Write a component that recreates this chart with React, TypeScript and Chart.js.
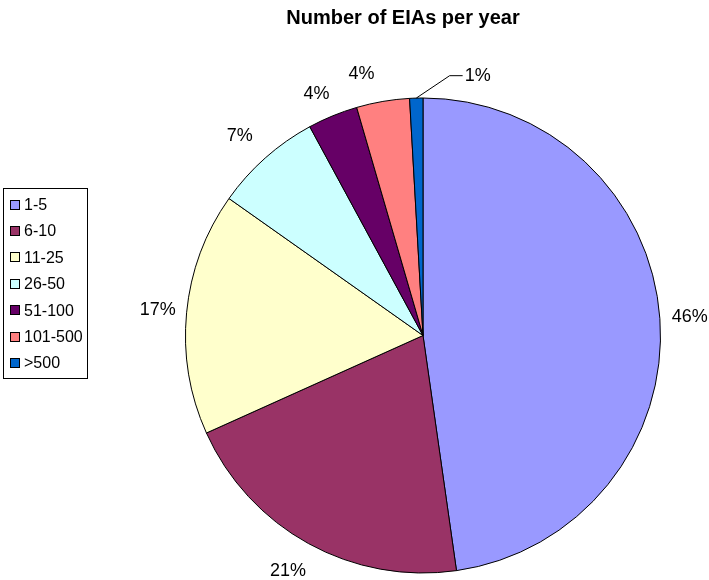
import React, { useEffect, useRef } from "react";
import { Chart, registerables } from "chart.js";

Chart.register(...registerables);

const categories = ["1-5", "6-10", "11-25", "26-50", "51-100", "101-500", ">500"];
const shares = [47.7, 20.5, 16.5, 7.3, 3.4, 3.6, 0.9];
const percentLabels = ["46%", "21%", "17%", "7%", "4%", "4%", "1%"];
const colors = ["#9999FF", "#993366", "#FFFFCC", "#CCFFFF", "#660066", "#FF8080", "#0066CC"];
const title = "Number of EIAs per year";

const FONT = "'Liberation Sans', Arial, sans-serif";

const excelPlugin = {
  id: "excelPie",
  afterDraw(chart: any) {
    const ctx = chart.ctx as CanvasRenderingContext2D;
    ctx.save();
    // title
    ctx.fillStyle = "#000";
    ctx.font = `bold 20px ${FONT}`;
    ctx.textAlign = "center";
    ctx.textBaseline = "middle";
    ctx.fillText(title, 403, 18);

    // percent labels
    const meta = chart.getDatasetMeta(0);
    const nudges = [0, 1, 0, -1, -1.5, -3.5, 13.5];
    const extra = [30, 34, 29, 33, 26, 31, 28];
    ctx.font = `18px ${FONT}`;
    meta.data.forEach((arc: any, i: number) => {
      const { x, y, startAngle, endAngle, outerRadius } = arc.getProps(
        ["x", "y", "startAngle", "endAngle", "outerRadius"],
        true
      );
      const mid = (startAngle + endAngle) / 2;
      const la = mid + (nudges[i] * Math.PI) / 180;
      const d = outerRadius + extra[i];
      const lx = x + Math.cos(la) * d;
      const ly = y + Math.sin(la) * d;
      ctx.fillStyle = "#000";
      ctx.textAlign = "center";
      ctx.fillText(percentLabels[i], lx, ly);
      if (i === meta.data.length - 1) {
        const ex = x + Math.cos(mid) * outerRadius;
        const ey = y + Math.sin(mid) * outerRadius;
        const tw = ctx.measureText(percentLabels[i]).width;
        ctx.strokeStyle = "#000";
        ctx.lineWidth = 1;
        ctx.beginPath();
        ctx.moveTo(ex, ey);
        ctx.lineTo(lx - tw / 2 - 15, ly);
        ctx.lineTo(lx - tw / 2 - 2, ly);
        ctx.stroke();
      }
    });

    // legend
    const bx = 3.5, by = 188.5, bw = 84, bh = 190;
    ctx.strokeStyle = "#000";
    ctx.lineWidth = 1;
    ctx.strokeRect(bx, by, bw, bh);
    ctx.font = `16px ${FONT}`;
    ctx.textAlign = "left";
    categories.forEach((c, i) => {
      const cy = 204.5 + i * 26.4;
      ctx.fillStyle = colors[i];
      ctx.fillRect(10.5, Math.round(cy) - 4.5, 9, 9);
      ctx.strokeStyle = "#000";
      ctx.strokeRect(10.5, Math.round(cy) - 4.5, 9, 9);
      ctx.fillStyle = "#000";
      ctx.fillText(c, 24, cy + 1);
    });
    ctx.restore();
  },
};

export default function App() {
  const ref = useRef<HTMLCanvasElement>(null);
  useEffect(() => {
    if (!ref.current) return;
    const chart = new Chart(ref.current, {
      type: "pie",
      data: {
        labels: categories,
        datasets: [
          {
            data: shares,
            backgroundColor: colors,
            borderColor: "#000",
            borderWidth: 1,
          },
        ],
      },
      options: {
        responsive: false,
        animation: false,
        layout: { padding: { left: 185, right: 48, top: 97, bottom: 6 } },
        plugins: {
          legend: { display: false },
          title: { display: false },
          tooltip: { enabled: false },
        },
      },
      plugins: [excelPlugin],
    });
    return () => chart.destroy();
  }, []);
  return (
    <div style={{ position: "fixed", left: 0, top: 0, width: 709, height: 580, background: "#fff" }}>
      <canvas ref={ref} width={709} height={580} style={{ width: 709, height: 580 }} />
    </div>
  );
}
